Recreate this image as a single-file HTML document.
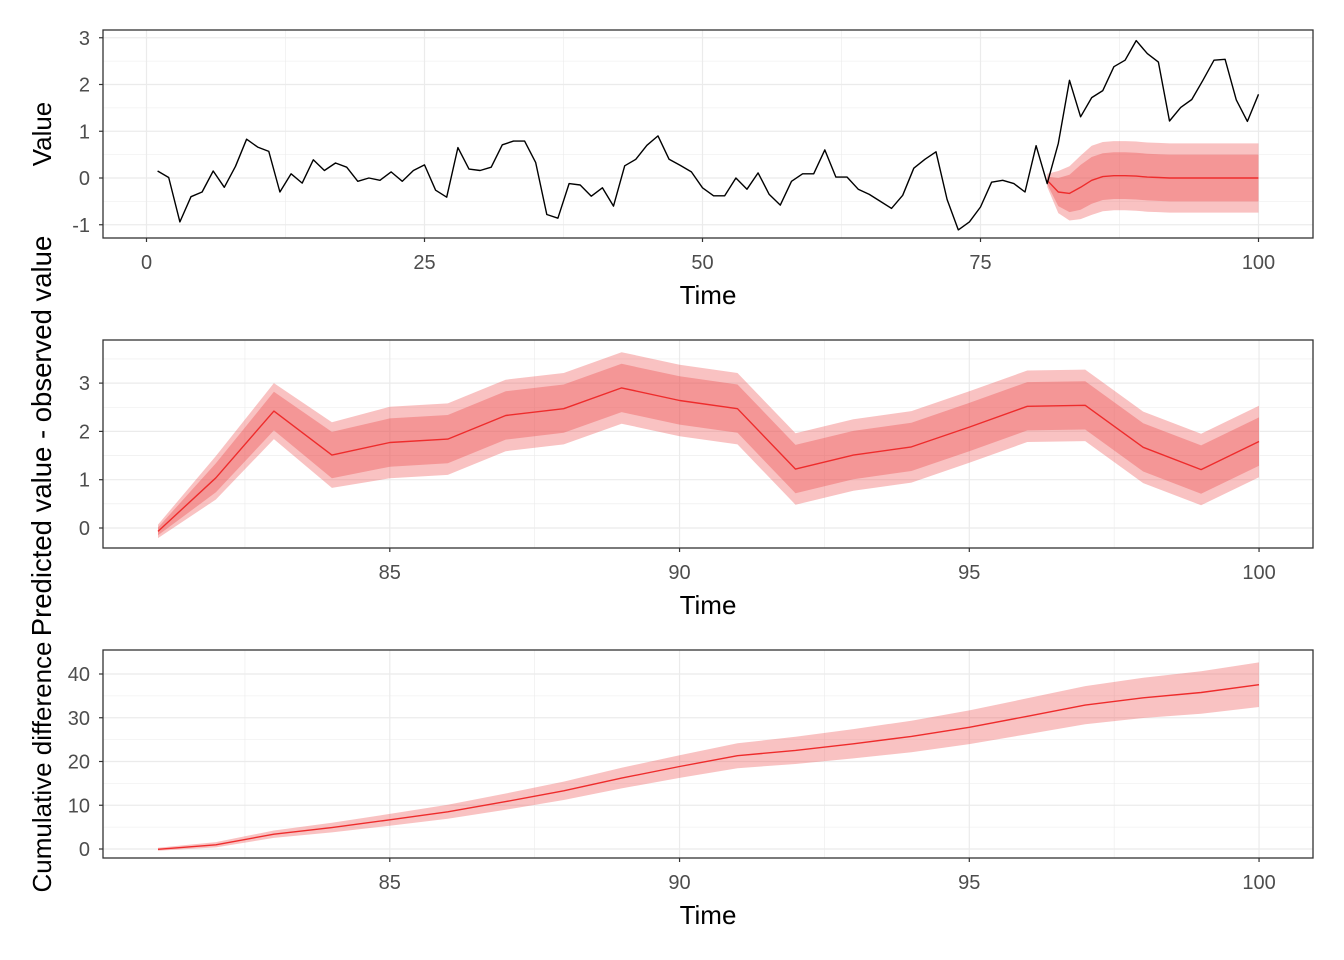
<!DOCTYPE html>
<html><head><meta charset="utf-8"><style>
html,body{margin:0;padding:0;background:#fff;}
svg{display:block;font-family:"Liberation Sans",Arial,sans-serif;}
</style></head><body>
<svg id="s" width="1344" height="960" xmlns="http://www.w3.org/2000/svg">
<rect width="1344" height="960" fill="#fff"/>
<g id="g"></g>
<text x="51" y="134" font-size="26" text-anchor="middle" transform="rotate(-90 51 134)">Value</text>
<text x="51" y="436" font-size="27.5" text-anchor="middle" transform="rotate(-90 51 436)">Predicted value - observed value</text>
<text x="51" y="767" font-size="26" text-anchor="middle" transform="rotate(-90 51 767)">Cumulative difference</text>
<text x="708" y="304" font-size="26" text-anchor="middle">Time</text>
<text x="708" y="614" font-size="26" text-anchor="middle">Time</text>
<text x="708" y="924" font-size="26" text-anchor="middle">Time</text>
</svg>
<script>
var obs=[0.15,0.01,-0.94,-0.40,-0.30,0.15,-0.20,0.25,0.83,0.66,0.57,-0.30,0.09,-0.11,0.39,0.16,0.32,0.23,-0.07,0.00,-0.05,0.13,-0.07,0.16,0.28,-0.26,-0.41,0.65,0.19,0.16,0.23,0.71,0.79,0.79,0.33,-0.78,-0.86,-0.12,-0.15,-0.39,-0.21,-0.60,0.26,0.40,0.70,0.90,0.40,0.27,0.13,-0.21,-0.38,-0.38,0.00,-0.24,0.11,-0.35,-0.58,-0.07,0.09,0.09,0.60,0.02,0.02,-0.24,-0.35,-0.50,-0.65,-0.37,0.21,0.40,0.56,-0.46,-1.11,-0.94,-0.62,-0.09,-0.05,-0.12,-0.30,0.69,-0.12,0.74,2.09,1.31,1.72,1.87,2.38,2.52,2.94,2.66,2.48,1.22,1.51,1.68,2.09,2.52,2.54,1.67,1.21,1.79];
var pm={81:-0.05,82:-0.3,83:-0.33,84:-0.2,85:-0.05,86:0.03,87:0.05,88:0.05,89:0.04,90:0.02,91:0.01};
function pred(t){return pm[t]!==undefined?pm[t]:0;}
function iw(t){return t==81?0.08:t==82?0.3:t==83?0.4:t==84?0.48:0.5;}
function ow(t){return t==81?0.14:t==82?0.45:t==83?0.58:t==84?0.68:0.74;}
var h='';
function panel(top,bot,xs,ys,xmaj,xmin,ymaj,ymin){
 var L=103,R=1313;
 ymin.forEach(function(v){var y=ys(v);h+='<line x1="'+L+'" x2="'+R+'" y1="'+y+'" y2="'+y+'" stroke="#ebebeb" stroke-width="0.6"/>';});
 xmin.forEach(function(v){var x=xs(v);h+='<line y1="'+top+'" y2="'+bot+'" x1="'+x+'" x2="'+x+'" stroke="#ebebeb" stroke-width="0.6"/>';});
 ymaj.forEach(function(v){var y=ys(v);h+='<line x1="'+L+'" x2="'+R+'" y1="'+y+'" y2="'+y+'" stroke="#ebebeb" stroke-width="1.2"/>';
  h+='<line x1="'+(L-4)+'" x2="'+L+'" y1="'+y+'" y2="'+y+'" stroke="#333" stroke-width="1.2"/>';
  h+='<text x="'+(L-13)+'" y="'+(y+7)+'" font-size="20" fill="#4d4d4d" text-anchor="end">'+v+'</text>';});
 xmaj.forEach(function(v){var x=xs(v);h+='<line y1="'+top+'" y2="'+bot+'" x1="'+x+'" x2="'+x+'" stroke="#ebebeb" stroke-width="1.2"/>';
  h+='<line y1="'+bot+'" y2="'+(bot+4)+'" x1="'+x+'" x2="'+x+'" stroke="#333" stroke-width="1.2"/>';
  h+='<text x="'+x+'" y="'+(bot+31)+'" font-size="20" fill="#4d4d4d" text-anchor="middle">'+v+'</text>';});
}
function ribbon(xs,ys,ts,lo,hi,col){
 var d='M';ts.forEach(function(t,i){d+=(i?'L':'')+xs(t).toFixed(1)+','+ys(lo(t)).toFixed(1);});
 for(var i=ts.length-1;i>=0;i--){var t=ts[i];d+='L'+xs(t).toFixed(1)+','+ys(hi(t)).toFixed(1);}
 h+='<path d="'+d+'Z" fill="'+col+'"/>';
}
function line(xs,ys,ts,f,col,w){
 var d='';ts.forEach(function(t,i){d+=(i?'L':'M')+xs(t).toFixed(1)+','+ys(f(t)).toFixed(1);});
 h+='<path d="'+d+'" fill="none" stroke="'+col+'" stroke-width="'+w+'" stroke-linejoin="round"/>';
}
function frame(top,bot){h+='<rect x="103" y="'+top+'" width="1210" height="'+(bot-top)+'" fill="none" stroke="#333" stroke-width="1.3"/>';}
var OUT='rgba(238,80,80,0.35)',IN='rgba(235,70,70,0.35)',RED='#EE2C2C';
var ft=[];for(var t=81;t<=100;t++)ft.push(t);
var xs1=function(t){return 146.5+t*11.12;},ys1=function(v){return 178-v*46.75;};
panel(30,238,xs1,ys1,[0,25,50,75,100],[12.5,37.5,62.5,87.5],[-1,0,1,2,3],[-0.5,0.5,1.5,2.5]);
ribbon(xs1,ys1,ft,function(t){return pred(t)-ow(t);},function(t){return pred(t)+ow(t);},OUT);
ribbon(xs1,ys1,ft,function(t){return pred(t)-iw(t);},function(t){return pred(t)+iw(t);},IN);
line(xs1,ys1,ft,pred,RED,1.4);
var at=[];for(var t=1;t<=100;t++)at.push(t);
line(xs1,ys1,at,function(t){return obs[t-1];},'#000',1.4);
frame(30,238);
var xs2=function(t){return 158+(t-81)*57.95;},ys2=function(v){return 528-v*48.3;};
var dif=function(t){return obs[t-1]-pred(t);};
panel(340,548,xs2,ys2,[85,90,95,100],[82.5,87.5,92.5,97.5],[0,1,2,3],[0.5,1.5,2.5,3.5]);
ribbon(xs2,ys2,ft,function(t){return dif(t)-ow(t);},function(t){return dif(t)+ow(t);},OUT);
ribbon(xs2,ys2,ft,function(t){return dif(t)-iw(t);},function(t){return dif(t)+iw(t);},IN);
line(xs2,ys2,ft,dif,RED,1.4);
frame(340,548);
var cs={},c=0;ft.forEach(function(t){c+=dif(t);cs[t]=c;});
var ys3=function(v){return 849-v*4.375;};
panel(650,858,xs2,ys3,[85,90,95,100],[82.5,87.5,92.5,97.5],[0,10,20,30,40],[5,15,25,35]);
ribbon(xs2,ys3,ft,function(t){return cs[t]-0.25*(t-80)-0.1;},function(t){return cs[t]+0.25*(t-80)+0.1;},OUT);
line(xs2,ys3,ft,function(t){return cs[t];},RED,1.4);
frame(650,858);
document.getElementById('g').innerHTML=h;
</script>
</body></html>
